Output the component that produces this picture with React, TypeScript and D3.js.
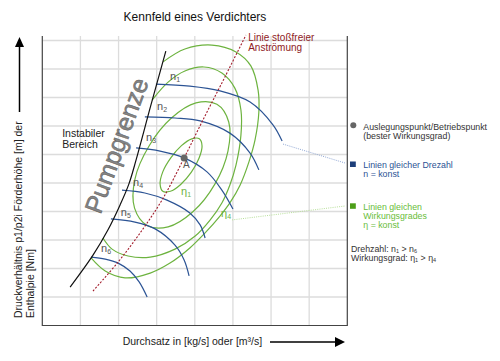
import React from "react";
import * as d3 from "d3";

type P = [number, number];

const W = 500;
const H = 361;
const FONT = "Liberation Sans, Arial, sans-serif";

// grid in map units (Durchsatz x Druckverhältnis)
const gridCols = [1, 2, 3, 4, 5, 6, 7];
const gridRows = [1, 2, 3, 4, 5, 6, 7, 8, 9, 10];

// Pumpgrenze (surge line)
const surgeLine: P[] = [
  [0.73, 1.35], [1.33, 2.47], [1.72, 3.35], [2.04, 4.23],
  [2.27, 4.96], [2.46, 5.81], [2.85, 7.74], [3.24, 9.63],
];

// Linie stoßfreier Anströmung
const shockFreeLine: P[] = [
  [1.33, 1.21], [1.99, 2.23], [2.62, 3.35], [3.17, 4.47],
  [3.72, 5.88], [4.24, 7.28], [4.79, 8.72], [5.34, 10.19],
];

const pointA: P = [3.72, 5.88];

// speed lines n1..n6
const speedN1: P[] = [[2.98, 8.47], [3.87, 8.4], [4.66, 8.23], [5.45, 7.84], [6.05, 7.04], [6.29, 6.47]];
const speedN2: P[] = [[2.69, 7.32], [3.48, 7.28], [4.14, 7.18], [4.92, 6.75], [5.45, 6.05], [5.68, 5.46]];
const speedN3: P[] = [[2.46, 6.23], [3.09, 6.12], [3.72, 5.88], [4.32, 5.39], [4.71, 4.75], [5.0, 4.09]];
const speedN4: P[] = [[2.09, 4.75], [2.69, 4.65], [3.27, 4.4], [3.87, 3.95], [4.14, 3.53], [4.27, 3.07]];
const speedN5: P[] = [[1.8, 3.74], [2.43, 3.63], [2.96, 3.39], [3.48, 2.82], [3.72, 2.3], [3.85, 1.74]];
const speedN6: P[] = [[1.28, 2.4], [1.65, 2.33], [1.99, 2.19], [2.3, 1.91], [2.54, 1.53], [2.75, 1.0]];
const speedLines = [speedN1, speedN2, speedN3, speedN4, speedN5, speedN6];
const speedLabels = ["1", "2", "3", "4", "5", "6"];
const speedLabelPos: P[] = [[3.35, 8.61], [3.01, 7.56], [2.72, 6.47], [2.38, 4.89], [2.06, 3.84], [1.54, 2.58]];

// efficiency contours
const etaLine1: P[] = [
  [4.12, 6.55], [4.19, 6.3], [4.11, 5.87], [3.91, 5.38], [3.63, 4.95], [3.36, 4.71],
  [3.16, 4.71], [3.09, 4.96], [3.16, 5.39], [3.37, 5.88], [3.65, 6.31], [3.92, 6.55],
];
const etaLine2: P[] = [
  [4.58, 7.76], [4.89, 7.14], [4.87, 6.12], [4.53, 4.97], [3.95, 3.99], [3.3, 3.46],
  [2.75, 3.51], [2.42, 4.12], [2.43, 5.14], [2.8, 6.3], [3.38, 7.27], [4.03, 7.81],
];
const etaLine3: P[] = [
  [2.88, 7.91], [3.3, 8.54], [3.74, 8.93], [4.24, 9.07], [4.71, 8.86], [5.05, 8.33],
  [5.21, 7.56], [5.21, 6.68], [5.08, 5.63], [4.92, 4.93], [4.71, 4.3], [4.4, 3.7],
  [4.01, 3.14], [3.48, 2.68], [2.83, 2.4], [2.25, 2.44], [1.83, 2.68], [1.59, 3.07],
];
const etaLine4: P[] = [
  [3.17, 9.25], [3.74, 9.7], [4.45, 9.84], [5.08, 9.6], [5.47, 9.11], [5.66, 8.26],
  [5.68, 7.49], [5.58, 6.51], [5.42, 5.74], [5.19, 4.93], [4.92, 4.3], [4.66, 3.84],
  [4.27, 3.25], [3.87, 2.72], [3.35, 2.19], [2.83, 1.84], [2.17, 1.67], [1.65, 1.91], [1.28, 2.37],
];
const etaLabels = ["1", "4"];
const etaLabelPos: P[] = [[3.64, 4.58], [4.69, 3.81]];

const GREEN = "#6db33f";
const BLUE = "#2b5394";
const RED = "#a31d2c";

export default function App() {
  const x = d3.scaleLinear().domain([0, 8]).range([42.3, 347.3]);
  const y = d3.scaleLinear().domain([0, 10]).range([325.5, 40.5]);
  const top = 36;

  const open = d3.line<P>().x(d => x(d[0])).y(d => y(d[1])).curve(d3.curveCatmullRom.alpha(0.5));
  const closed = d3.line<P>().x(d => x(d[0])).y(d => y(d[1])).curve(d3.curveCatmullRomClosed.alpha(0.5));

  const n1End = speedN1[speedN1.length - 1];
  const eta4Pos = etaLabelPos[1];

  return (
    <svg width={W} height={H} style={{ position: "absolute", left: 0, top: 0 }} fontFamily={FONT}>
      <rect width={W} height={H} fill="#fff" />
      {/* grid */}
      {gridCols.map(c => (
        <line key={"c" + c} x1={x(c)} x2={x(c)} y1={top} y2={y(0)} stroke="#dcdcdc" strokeWidth={1.3} />
      ))}
      {gridRows.map(r => (
        <line key={"r" + r} x1={x(0)} x2={x(8)} y1={y(r)} y2={y(r)} stroke="#dcdcdc" strokeWidth={1.3} />
      ))}
      {/* frame */}
      <path d={`M${x(0)},${top}V${y(0)}H${x(8)}V${top}`} fill="none" stroke="#444" strokeWidth={1.2} />

      {/* efficiency contours */}
      <g fill="none" stroke={GREEN} strokeWidth={1.2}>
        <path d={closed(etaLine1)!} />
        <path d={closed(etaLine2)!} />
        <path d={open(etaLine3)!} />
        <path d={open(etaLine4)!} />
      </g>

      {/* speed lines */}
      <g fill="none" stroke={BLUE} strokeWidth={1.2}>
        {speedLines.map((s, i) => <path key={i} d={open(s)!} />)}
      </g>

      {/* shock free line */}
      <path d={open(shockFreeLine)!} fill="none" stroke={RED} strokeWidth={1.1} strokeDasharray="2,1.6" />
      <text x={x(5.4)} y={y(10.0)} fontSize={10} fill="#8f1a24">
        <tspan>Linie stoßfreier</tspan>
        <tspan x={x(5.4)} dy={10.2}>Anströmung</tspan>
      </text>

      {/* surge line */}
      <path d={open(surgeLine)!} fill="none" stroke="#111" strokeWidth={1.2} />
      <text
        transform={`translate(${x(2.16)},${y(6.21)}) rotate(-70)`}
        textAnchor="middle"
        fontSize={25}
        fill="#858585"
        stroke="#5a5a5a"
        strokeWidth={0.5}
      >
        Pumpgrenze
      </text>

      <text x={x(0.52)} y={y(6.61)} fontSize={10.5} fill="#222">
        <tspan>Instabiler</tspan>
        <tspan x={x(0.52)} dy={10.5}>Bereich</tspan>
      </text>

      {/* labels */}
      {speedLabels.map((l, i) => (
        <text key={l} x={x(speedLabelPos[i][0])} y={y(speedLabelPos[i][1])} fontSize={11} fill="#555">
          n<tspan fontSize={7} dy={2}>{l}</tspan>
        </text>
      ))}
      {etaLabels.map((l, i) => (
        <text key={l} x={x(etaLabelPos[i][0])} y={y(etaLabelPos[i][1])} fontSize={11} fill={GREEN}>
          η<tspan fontSize={7} dy={2}>{l}</tspan>
        </text>
      ))}

      <circle cx={x(pointA[0])} cy={y(pointA[1])} r={3.5} fill="#666" />
      <text x={x(3.69)} y={y(5.53)} fontSize={10} fill="#555">A</text>

      {/* leaders */}
      <line x1={x(n1End[0]) + 1} y1={y(n1End[1]) + 3} x2={345} y2={163} stroke="#8ea6d4" strokeWidth={1} strokeDasharray="1,1.2" />
      <line x1={x(eta4Pos[0]) + 11} y1={y(eta4Pos[1]) + 3} x2={345} y2={206} stroke="#b8e09a" strokeWidth={1} strokeDasharray="1,1.2" />

      {/* legend */}
      <g fontSize={8.8}>
        <circle cx={353.3} cy={125.2} r={3} fill="#666" />
        <text x={363.3} y={130} fill="#333">
          <tspan>Auslegungspunkt/Betriebspunkt</tspan>
          <tspan x={363.3} dy={9}>(bester Wirkungsgrad)</tspan>
        </text>
        <rect x={350} y={161.5} width={5.8} height={5.5} fill="#1d3f7a" />
        <text x={363.3} y={168} fill={BLUE}>
          <tspan>Linien gleicher Drezahl</tspan>
          <tspan x={363.3} dy={9}>n = konst</tspan>
        </text>
        <rect x={350} y={203.3} width={5.8} height={5.5} fill="#4c9e18" />
        <text x={363.3} y={210} fill="#69bd3a">
          <tspan>Linien gleichen</tspan>
          <tspan x={363.3} dy={8.8}>Wirkungsgrades</tspan>
          <tspan x={363.3} dy={8.8}>η = konst</tspan>
        </text>
        <text x={351} y={251.5} fill="#333">
          Drehzahl: n<tspan fontSize={5.5} dy={1}>1</tspan>
          <tspan dy={-1}> &gt; n</tspan>
          <tspan fontSize={5.5} dy={1}>6</tspan>
        </text>
        <text x={351} y={261} fill="#333">
          Wirkungsgrad: η<tspan fontSize={5.5} dy={1}>1</tspan>
          <tspan dy={-1}> &gt; η</tspan>
          <tspan fontSize={5.5} dy={1}>4</tspan>
        </text>
      </g>

      {/* title */}
      <text x={195} y={21} textAnchor="middle" fontSize={12} fill="#111">Kennfeld eines Verdichters</text>

      {/* y axis label + arrow */}
      <line x1={19.5} x2={19.5} y1={46} y2={112} stroke="#000" strokeWidth={1.5} />
      <path d="M15,47L19.5,37L24,47Z" fill="#000" />
      <text transform="translate(21.5,318) rotate(-90)" fontSize={10.5} fill="#222">
        Druckverhältnis p1/p2i Förderhöhe [m] der
      </text>
      <text transform="translate(33.5,318) rotate(-90)" fontSize={10.5} fill="#222">
        Enthalpie [Nm]
      </text>

      {/* x axis label + arrow */}
      <text x={122.7} y={345} fontSize={10.5} fill="#222">Durchsatz in [kg/s] oder [m³/s]</text>
      <line x1={270} x2={336} y1={342} y2={342} stroke="#000" strokeWidth={1.5} />
      <path d="M335,337L345,342L335,347Z" fill="#000" />
    </svg>
  );
}
